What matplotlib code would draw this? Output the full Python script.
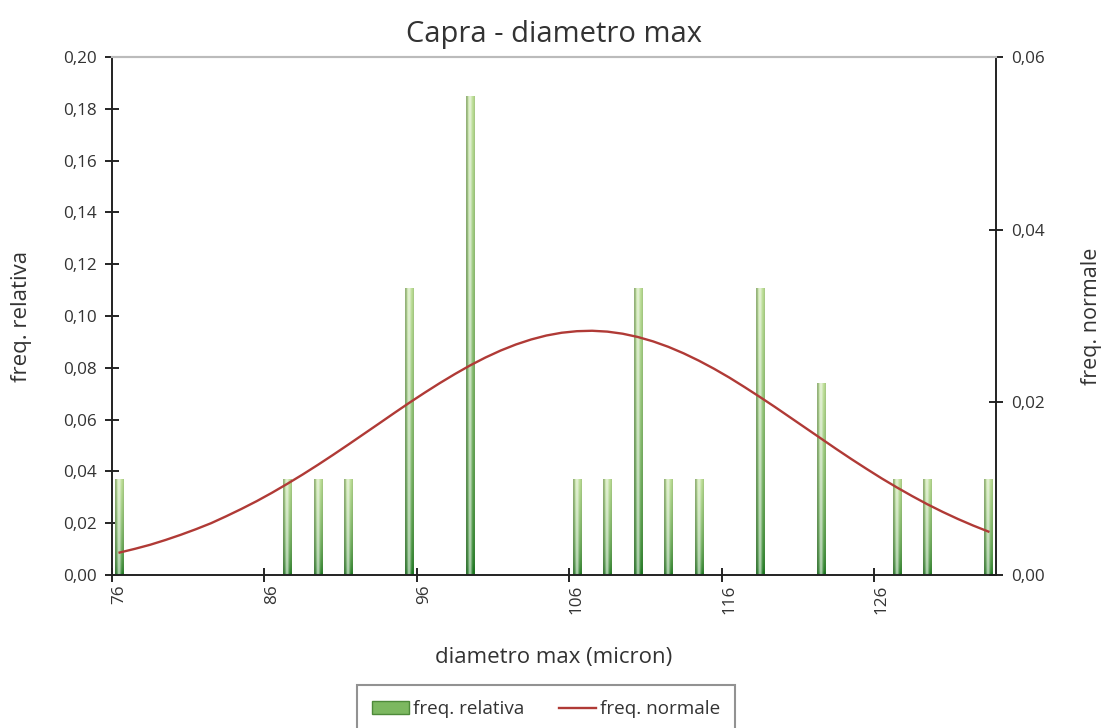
import numpy as np
import matplotlib.pyplot as plt
from matplotlib.patches import Rectangle, Patch
from matplotlib.lines import Line2D
from matplotlib.ticker import FuncFormatter

plt.rcParams['font.family'] = ['Open Sans', 'DejaVu Sans']

# istogramma: diametro (micron) e frequenza relativa (n = 27)
diam = [76, 87, 89, 91, 95, 99, 106, 108, 110, 112, 114, 118, 122, 127, 129, 133]
freq_rel = [0.037, 0.037, 0.037, 0.037, 0.111, 0.185, 0.037, 0.037,
            0.111, 0.037, 0.037, 0.111, 0.074, 0.037, 0.037, 0.037]

# curva normale
x_norm = list(range(76, 134))
freq_norm = [0.0026, 0.00303, 0.0035, 0.00405, 0.00465, 0.0053, 0.006, 0.00681,
             0.00766, 0.00856, 0.00953, 0.01056, 0.01163, 0.01275, 0.01391, 0.0151,
             0.01631, 0.01752, 0.01874, 0.01994, 0.0211, 0.02222, 0.02328, 0.02428,
             0.02519, 0.026, 0.0267, 0.02728, 0.02774, 0.02806, 0.02824, 0.02829,
             0.02819, 0.02795, 0.02757, 0.02706, 0.02643, 0.02568, 0.02483, 0.02389,
             0.02287, 0.02177, 0.02063, 0.01946, 0.01825, 0.01704, 0.01583, 0.01462,
             0.01344, 0.0123, 0.01119, 0.01014, 0.00914, 0.00819, 0.00731, 0.00649,
             0.00573, 0.00503]

cat_first, cat_last = 76, 133
tick_labels = [76, 86, 96, 106, 116, 126]
left_ticks = [0.0, 0.02, 0.04, 0.06, 0.08, 0.10, 0.12, 0.14, 0.16, 0.18, 0.20]
right_ticks = [0.0, 0.02, 0.04, 0.06]

comma = FuncFormatter(lambda v, p: f'{v:.2f}'.replace('.', ','))


def bar_gradient():
    ny, nx = 64, 16
    t = np.linspace(0, 1, ny)[:, None]
    bottom = np.array([0.08, 0.45, 0.10])
    top = np.array([0.72, 0.86, 0.56])
    k = t[..., None] ** 0.55
    img = bottom * (1 - k) + top * k
    img = np.repeat(img, nx, axis=1)
    u = np.linspace(0, 1, nx)
    hl = np.exp(-((u - 0.45) / 0.22) ** 2) * 0.65
    edge = np.where(u < 0.15, 0.35, 0.0) + np.where(u > 0.9, 0.15, 0.0)
    img = img * (1 - hl[None, :, None]) + hl[None, :, None]
    img = img * (1 - edge[None, :, None]) + np.array([0.35, 0.42, 0.33]) * edge[None, :, None]
    return np.clip(img, 0, 1)


fig = plt.figure(figsize=(11.04, 7.28), dpi=100)
ax = fig.add_axes([112 / 1104, 1 - 575 / 728, 884 / 1104, 518 / 728])
ax2 = ax.twinx()

grad = bar_gradient()
w = 0.55
for x, h in zip(diam, freq_rel):
    clip = Rectangle((x - w / 2, 0), w, h, transform=ax.transData)
    im = ax.imshow(grad, extent=(x - w / 2, x + w / 2, 0, h), origin='lower',
                   aspect='auto', zorder=2, interpolation='bilinear')
    im.set_clip_path(clip)

ax2.plot(x_norm, freq_norm, color='#b03a36', lw=1.7, zorder=3)

ax.set_xlim(cat_first - 0.5, cat_last + 0.5)
ax.set_ylim(0, 0.20)
ax2.set_ylim(0, 0.06)

# tacche tra le categorie, etichette al centro
ax.set_xticks([v - 0.5 for v in tick_labels])
ax.set_xticklabels([])
ax.set_xticks(tick_labels, [str(v) for v in tick_labels], minor=True)
ax.tick_params(axis='x', which='minor', length=0, labelrotation=90, labelsize=12.3,
               pad=7, labelcolor='#333333')
ax.tick_params(axis='x', which='major', direction='inout', length=10, width=1.2)

ax.set_yticks(left_ticks)
ax.yaxis.set_major_formatter(comma)
ax.tick_params(axis='y', direction='inout', length=10, width=1.2, labelsize=12.3,
               labelcolor='#333333', pad=6)
ax2.set_yticks(right_ticks)
ax2.yaxis.set_major_formatter(comma)
ax2.tick_params(axis='y', direction='inout', length=10, width=1.2, labelsize=12.3,
                labelcolor='#333333', pad=6)

for a in (ax, ax2):
    for s in ('left', 'right', 'bottom'):
        a.spines[s].set_linewidth(1.2)
        a.spines[s].set_color('#222222')
    a.spines['top'].set_color('#bbbbbb')
    a.spines['top'].set_linewidth(1.5)

ax.set_xlabel('diametro max (micron)', fontsize=16, color='#333333', labelpad=24)
ax.set_ylabel('freq. relativa', fontsize=16, color='#333333', labelpad=22)
ax2.set_ylabel('freq. normale', fontsize=15.5, color='#333333', labelpad=26)
ax.set_title('Capra - diametro max', fontsize=21, color='#333333', pad=11)

handles = [Patch(facecolor='#7cb860', edgecolor='#4e8a3a'),
           Line2D([], [], color='#b03a36', lw=1.7)]
fig.legend(handles, ['freq. relativa', 'freq. normale'], loc='upper center',
           bbox_to_anchor=(546 / 1104, 1 - 685 / 728), ncol=2, fontsize=13.6,
           frameon=True, fancybox=False, edgecolor='#777777', borderpad=0.8,
           borderaxespad=0, handlelength=2.0, handletextpad=0.2, columnspacing=1.8,
           labelcolor='#333333').get_frame().set_linewidth(1.5)

fig.savefig('out.png', dpi=100)
